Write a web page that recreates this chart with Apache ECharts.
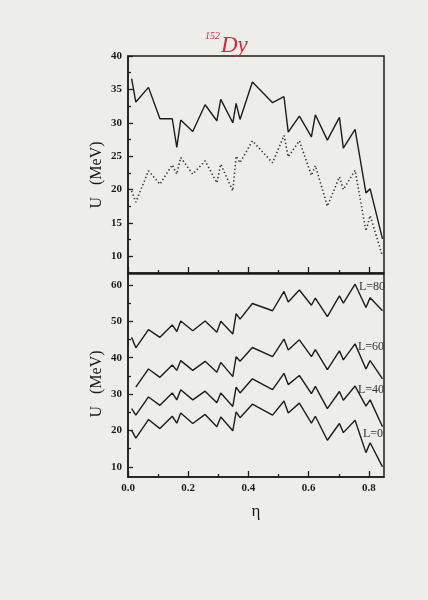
<!DOCTYPE html>
<html>
<head>
<meta charset="utf-8">
<script src="https://cdn.jsdelivr.net/npm/echarts@6/dist/echarts.min.js"></script>
<style>
  html, body { margin: 0; padding: 0; background: #edeee9; }
  #chart { width: 428px; height: 600px; }
</style>
</head>
<body>
<div id="chart"></div>
<script>
// eta positions shared by every curve
const eta = [0.012, 0.026, 0.068, 0.106, 0.147, 0.162, 0.175, 0.215, 0.256, 0.295, 0.308, 0.348, 0.359, 0.372,
  0.413, 0.48, 0.518, 0.532, 0.569, 0.609, 0.622, 0.662, 0.702, 0.715, 0.754, 0.79, 0.804, 0.845];

// upper panel
const upperSolid = [36.6, 33.1, 35.3, 30.6, 30.6, 26.3, 30.4, 28.7, 32.7, 30.3, 33.5, 30.0, 32.9, 30.5,
  36.1, 33.0, 33.9, 28.6, 31.0, 27.9, 31.2, 27.4, 30.8, 26.2, 29.0, 19.5, 20.1, 12.6];
const upperDotted = [19.8, 18.1, 22.8, 20.8, 23.7, 22.3, 24.8, 22.3, 24.3, 21.0, 23.8, 19.8, 25.0, 24.0,
  27.3, 24.0, 28.1, 24.9, 27.3, 22.1, 23.6, 17.5, 21.9, 20.0, 22.9, 13.8, 16.1, 10.0];

// lower panel, one curve per L
const uL80 = [45.6, 42.7, 47.7, 45.6, 49.0, 47.2, 50.1, 47.4, 50.1, 47.0, 50.0, 46.5, 52.1, 50.6,
  54.9, 52.9, 58.2, 55.3, 58.6, 54.4, 56.4, 51.3, 57.0, 55.0, 60.2, 53.8, 56.5, 52.9];
const uL60 = [null, 31.9, 36.9, 34.6, 38.0, 36.5, 39.2, 36.5, 39.0, 36.0, 38.7, 34.8, 40.3, 39.0,
  42.8, 40.3, 45.1, 42.1, 44.9, 40.3, 42.2, 36.7, 41.9, 39.4, 43.8, 36.9, 39.2, 34.2];
const uL40 = [26.0, 24.2, 29.2, 26.9, 30.3, 28.4, 31.2, 28.4, 30.8, 27.6, 30.3, 26.6, 31.9, 30.3,
  34.2, 31.2, 35.7, 32.6, 35.1, 30.1, 32.1, 26.0, 30.7, 28.3, 32.2, 26.7, 28.4, 21.0];
const uL0 = [20.0, 17.9, 23.0, 20.5, 23.9, 22.0, 24.8, 21.9, 24.4, 21.0, 23.7, 19.9, 25.1, 23.5,
  27.2, 24.2, 28.1, 24.8, 27.5, 22.0, 23.9, 17.3, 21.9, 19.4, 22.8, 13.9, 16.6, 10.0];
const curveLabels = ['L=80', 'L=60', 'L=40', 'L=0'];

// ticks
const etaMajor = [0, 0.2, 0.4, 0.6, 0.8];
const etaMinor = [0.1, 0.3, 0.5, 0.7];
const upperMajor = [10, 15, 20, 25, 30, 35, 40];
const upperMinor = [12.5, 17.5, 22.5, 27.5, 32.5, 37.5];
const lowerMajor = [10, 20, 30, 40, 50, 60];
const lowerMinor = [15, 25, 35, 45, 55];

const ink = '#1c1c1c';
const serif = '"Liberation Serif", "DejaVu Serif", serif';

const pairs = (vals) => eta.map((x, i) => [x, vals[i]]).filter(p => p[1] != null);

const xAxisFor = (grid, ticks, len, line, labels) => ({
  gridIndex: grid,
  type: 'value',
  min: 0,
  max: 0.85,
  position: 'bottom',
  axisLine: { show: line, lineStyle: { color: ink, width: 1.5 } },
  axisTick: { inside: true, length: len, customValues: ticks, lineStyle: { color: ink, width: 1.3 } },
  axisLabel: labels ? {
    customValues: ticks,
    formatter: v => v.toFixed(1),
    fontFamily: serif, fontWeight: 'bold', fontSize: 11, color: ink, margin: 6
  } : { show: false },
  splitLine: { show: false }
});

const yAxisFor = (grid, min, max, ticks, len, line, labels) => ({
  gridIndex: grid,
  type: 'value',
  min: min,
  max: max,
  position: 'left',
  axisLine: { show: line, lineStyle: { color: ink, width: 1.5 } },
  axisTick: { inside: true, length: len, customValues: ticks, lineStyle: { color: ink, width: 1.3 } },
  axisLabel: labels ? {
    customValues: ticks,
    fontFamily: serif, fontWeight: 'bold', fontSize: 11, color: ink, margin: 6
  } : { show: false },
  splitLine: { show: false }
});

const solid = { color: ink, width: 1.4 };

const chart = echarts.init(document.getElementById('chart'));
chart.setOption({
  backgroundColor: '#edeee9',
  animation: false,
  grid: [
    { left: 128, right: 44, top: 56, height: 217, show: true, borderColor: ink, borderWidth: 1.5 },
    { left: 128, right: 44, top: 274, height: 203, show: true, borderColor: ink, borderWidth: 1.5 }
  ],
  xAxis: [
    xAxisFor(0, etaMajor, 6, true, false),
    xAxisFor(0, etaMinor, 3, false, false),
    xAxisFor(1, etaMajor, 6, true, true),
    xAxisFor(1, etaMinor, 3, false, false)
  ],
  yAxis: [
    yAxisFor(0, 7.5, 40, upperMajor, 5, true, true),
    yAxisFor(0, 7.5, 40, upperMinor, 3, false, false),
    yAxisFor(1, 7.2, 63, lowerMajor, 5, true, true),
    yAxisFor(1, 7.2, 63, lowerMinor, 3, false, false)
  ],
  series: [
    { type: 'line', xAxisIndex: 0, yAxisIndex: 0, data: pairs(upperSolid), symbol: 'none', lineStyle: solid },
    { type: 'line', xAxisIndex: 0, yAxisIndex: 0, data: pairs(upperDotted), symbol: 'none',
      lineStyle: { color: '#3a3a3a', width: 1.6, type: [1.4, 2.4] } },
    { type: 'line', xAxisIndex: 2, yAxisIndex: 2, data: pairs(uL80), symbol: 'none', lineStyle: solid },
    { type: 'line', xAxisIndex: 2, yAxisIndex: 2, data: pairs(uL60), symbol: 'none', lineStyle: solid },
    { type: 'line', xAxisIndex: 2, yAxisIndex: 2, data: pairs(uL40), symbol: 'none', lineStyle: solid },
    { type: 'line', xAxisIndex: 2, yAxisIndex: 2, data: pairs(uL0), symbol: 'none', lineStyle: solid }
  ],
  graphic: [
    { type: 'text', x: 97, y: 175, rotation: Math.PI / 2,
      style: { text: 'U   (MeV)', font: '16px ' + serif, fill: ink, align: 'center', verticalAlign: 'middle' } },
    { type: 'text', x: 97, y: 384, rotation: Math.PI / 2,
      style: { text: 'U   (MeV)', font: '16px ' + serif, fill: ink, align: 'center', verticalAlign: 'middle' } },
    { type: 'text', x: 256, y: 512,
      style: { text: 'η', font: '17px ' + serif, fill: ink, align: 'center', verticalAlign: 'middle' } },
    { type: 'text', x: 205, y: 36,
      style: { text: '152', font: 'italic 10px ' + serif, fill: '#d3273d', verticalAlign: 'middle' } },
    { type: 'text', x: 221, y: 46,
      style: { text: 'Dy', font: 'italic 23px ' + serif, fill: '#d3273d', verticalAlign: 'middle' } },
    { type: 'text', x: 359, y: 287,
      style: { text: curveLabels[0], font: '12px ' + serif, fill: '#333', verticalAlign: 'middle' } },
    { type: 'text', x: 358, y: 347,
      style: { text: curveLabels[1], font: '12px ' + serif, fill: '#333', verticalAlign: 'middle' } },
    { type: 'text', x: 358, y: 390,
      style: { text: curveLabels[2], font: '12px ' + serif, fill: '#333', verticalAlign: 'middle' } },
    { type: 'text', x: 363, y: 434,
      style: { text: curveLabels[3], font: '12px ' + serif, fill: '#333', verticalAlign: 'middle' } }
  ]
});
</script>
</body>
</html>
